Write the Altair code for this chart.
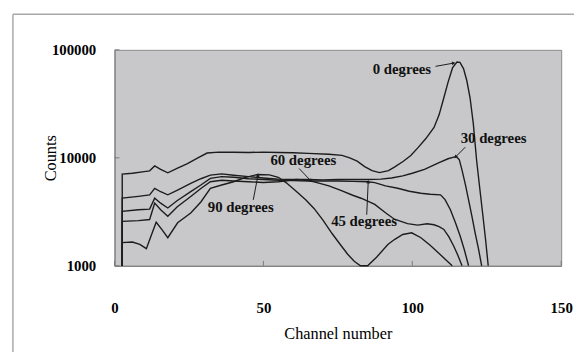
import altair as alt
import pandas as pd

# ---------------- data ----------------
ch0 = [2.6, 2.6, 6, 10, 11.8, 13.5, 15.5, 17.9, 21, 24.5, 28, 31.1, 35, 40, 45, 50, 55, 60, 65, 72, 76.4,
       79, 81.5, 84, 86.5, 89, 92, 94, 97, 99.5, 102, 104.5, 107.3, 109, 110.6, 112, 113.5, 115, 116,
       117.2, 118.3, 119.4, 120.5, 121.6, 122.6, 123.6, 124.6, 125.5]
v0 = [1000, 7060, 7200, 7450, 7570, 8410, 7800, 7260, 8000, 8850, 10000, 11070, 11300, 11250, 11200,
      11300, 11200, 11150, 11000, 10800, 10540, 10000, 9300, 8300, 7600, 7300, 7600, 8200, 9300, 10500,
      12500, 15000, 19100, 25000, 36000, 50000, 68000, 77000, 76500, 67000, 52000, 36000, 20600, 9500,
      5400, 3100, 1760, 1000]

ch30 = [2.6, 2.6, 8, 11.8, 13.5, 15.5, 17.9, 21, 25.6, 29, 32.2, 36, 40, 45, 50, 55, 60, 65, 70, 75, 80,
        85, 89.4, 93, 96.8, 100, 104.1, 107, 109, 112, 114.8, 115.8, 116.7, 117.8, 118.9, 120, 121.1,
        122.2, 123.3]
v30 = [1000, 4230, 4400, 4540, 5220, 4850, 4540, 5000, 5800, 6400, 6920, 7100, 6900, 6700, 6500, 6350,
       6300, 6300, 6250, 6300, 6300, 6300, 6350, 6500, 6800, 7200, 7830, 8500, 9010, 9800, 10300, 9600,
       7700, 5700, 4080, 2900, 2020, 1450, 1000]

ch45 = [2.6, 2.6, 8, 11.8, 13.5, 15.5, 17.9, 21, 25.6, 29, 32.2, 36, 40, 45, 50, 55, 60, 65, 70, 75, 80,
        85, 87.4, 91, 95.1, 99, 102.9, 106, 109.5, 111, 112.8, 114.5, 116.1, 117.5, 118.9]
v45 = [1000, 3190, 3300, 3350, 4230, 3800, 3430, 4000, 4860, 5600, 6450, 6700, 6600, 6400, 6300, 6200,
       6150, 6100, 6100, 6100, 6050, 6000, 5900, 5500, 5220, 4900, 4700, 4600, 4540, 4100, 3300, 2500,
       1880, 1400, 1000]

ch60 = [2.6, 2.6, 8, 11.8, 13.5, 15.5, 17.9, 21, 25.6, 29, 32.2, 36, 40, 45, 50, 55, 61, 65, 68, 72, 76,
        80, 83, 87.4, 91, 94, 98.4, 101.8, 105, 107.3, 109, 110.6, 112.3, 113.9, 115.3, 116.7]
v60 = [1000, 2580, 2620, 2680, 3810, 3300, 2870, 3500, 4380, 5200, 6000, 6200, 6100, 6000, 5900, 6000,
       6300, 6200, 5900, 5500, 5000, 4500, 4200, 3700, 3100, 2700, 2460, 2380, 2450, 2400, 2300, 2170,
       1850, 1525, 1250, 1000]

ch90 = [2.6, 2.6, 6, 8.5, 10.7, 12.3, 14, 16, 17.9, 21.2, 25.6, 29, 32.2, 36, 40, 44, 48, 52, 55, 57.6,
        61, 64.2, 67, 70, 73, 76, 78.3, 80.5, 82.6, 85, 88, 91.8, 94, 96.8, 99.8, 102.9, 106, 109,
        111.5, 113.4]
v90 = [1000, 1640, 1660, 1580, 1440, 1900, 2530, 2150, 1820, 2500, 3080, 3900, 5220, 5600, 6000, 6600,
       7000, 6950, 6600, 5900, 4900, 4080, 3400, 2650, 2000, 1550, 1280, 1100, 1000, 1000, 1200, 1574,
       1750, 1950, 2020, 1820, 1550, 1300, 1120, 1000]

series_names = ["0 degrees", "30 degrees", "45 degrees", "60 degrees", "90 degrees"]
series_ch = [ch0, ch30, ch45, ch60, ch90]
series_v = [v0, v30, v45, v60, v90]

# annotation labels (centre of text) and arrows (start -> tip)
label_text = ["0 degrees", "30 degrees", "45 degrees", "60 degrees", "90 degrees"]
label_x = [96.5, 127.3, 83.8, 63.4, 42.4]
label_y = [66000, 15100, 2580, 9490, 3520]
arrow_x = [107.8, 117.8, 84.7, 62.0, 46.6]
arrow_y = [70300, 12550, 2970, 7960, 4080]
arrow_x2 = [113.9, 114.5, 85.2, 65.9, 48.2]
arrow_y2 = [75400, 10170, 6000, 6130, 6920]
arrow_angle = [80, 225, 3, 137, 11]

xtick_vals = [0, 50, 100, 150]
ytick_vals = [1000, 10000, 100000]

# ---------------- build tables ----------------
rows = []
for name, chs, vs in zip(series_names, series_ch, series_v):
    for i, (c, v) in enumerate(zip(chs, vs)):
        rows.append({"series": name, "ch": c, "counts": v, "idx": i})
lines_df = pd.DataFrame(rows)
labels_df = pd.DataFrame({"text": label_text, "x": label_x, "y": label_y})
arrows_df = pd.DataFrame({"x": arrow_x, "y": arrow_y, "x2": arrow_x2, "y2": arrow_y2,
                          "ang": arrow_angle})
xt_df = pd.DataFrame({"v": xtick_vals})
yt_df = pd.DataFrame({"v": ytick_vals})
one_df = pd.DataFrame({"a": [0]})

W, H = 453, 219
FONT = "Liberation Serif"

xscale = alt.Scale(domain=[0, 150], nice=False, zero=False)
yscale = alt.Scale(type="log", domain=[1000, 100000], nice=False)

xaxis = alt.Axis(values=xtick_vals, title="Channel number", grid=False, ticks=False, tickSize=0,
                 labelFlush=False, labelPadding=35, labelFont=FONT, labelFontWeight="bold",
                 labelFontSize=15, labelColor="black", domainColor="#7a7a7a",
                 titleFont=FONT, titleFontWeight="normal", titleFontSize=16.5, titleColor="black",
                 titleY=69, titleBaseline="middle")
yaxis = alt.Axis(values=ytick_vals, format="d", title="Counts", grid=False, ticks=False, tickSize=0,
                 labelPadding=19, labelFont=FONT, labelFontWeight="bold", labelFontSize=15,
                 labelColor="black", domainColor="#7a7a7a",
                 titleFont=FONT, titleFontWeight="normal", titleFontSize=16.5, titleColor="black",
                 titleAngle=270, titleX=-65, titleY=H / 2, titleBaseline="middle")

lines = alt.Chart(lines_df).mark_line(color="#1c1c1c", strokeWidth=1.4).encode(
    x=alt.X("ch:Q", scale=xscale, axis=xaxis),
    y=alt.Y("counts:Q", scale=yscale, axis=yaxis),
    detail="series:N",
    order="idx:Q",
)

texts = alt.Chart(labels_df).mark_text(font=FONT, fontWeight="bold", fontSize=15, color="#111111",
                                       baseline="middle", align="center").encode(
    x=alt.X("x:Q", scale=xscale), y=alt.Y("y:Q", scale=yscale), text="text:N")

arrows = alt.Chart(arrows_df).mark_rule(color="#1c1c1c", strokeWidth=1).encode(
    x=alt.X("x:Q", scale=xscale), y=alt.Y("y:Q", scale=yscale), x2="x2:Q", y2="y2:Q")

heads = alt.Chart(arrows_df).mark_point(shape="triangle-up", filled=True, size=16, color="#1c1c1c",
                                        opacity=1).encode(
    x=alt.X("x2:Q", scale=xscale), y=alt.Y("y2:Q", scale=yscale),
    angle=alt.Angle("ang:Q", scale=None))

xticks = alt.Chart(xt_df).mark_rule(color="#7a7a7a", strokeWidth=1).encode(
    x=alt.X("v:Q", scale=xscale), y=alt.value(H), y2=alt.value(H - 5))
yticks = alt.Chart(yt_df).mark_rule(color="#7a7a7a", strokeWidth=1).encode(
    y=alt.Y("v:Q", scale=yscale), x=alt.value(0), x2=alt.value(5))

frame_top = alt.Chart(one_df).mark_rule(color="#a8a8a8", strokeWidth=1.5).encode(
    x=alt.value(-103), x2=alt.value(470), y=alt.value(-36))
frame_left = alt.Chart(one_df).mark_rule(color="#a8a8a8", strokeWidth=1.5).encode(
    x=alt.value(-103), y=alt.value(-36), y2=alt.value(310))

chart = alt.layer(frame_top, frame_left, lines, arrows, heads, texts, xticks, yticks).properties(
    width=W, height=H,
    autosize=alt.AutoSizeParams(type="none"),
    padding={"left": 108, "top": 40, "right": 13, "bottom": 85},
    background="white",
).configure_view(fill="#c8c8ca", stroke="#8a8a8a", strokeWidth=1)

chart.save("out.html", embed_options={"renderer": "svg", "actions": False})
